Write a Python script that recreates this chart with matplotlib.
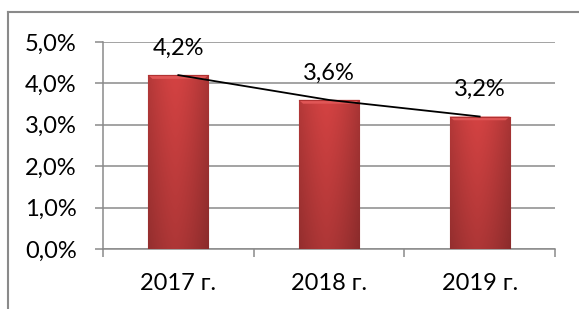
import numpy as np
import matplotlib
matplotlib.use("Agg")
import matplotlib.pyplot as plt
from matplotlib.lines import Line2D
from matplotlib.ticker import FuncFormatter

# data
years = ["2017 г.", "2018 г.", "2019 г."]
values = [4.2, 3.6, 3.2]
labels = ["4,2%", "3,6%", "3,2%"]
yticks = [0, 1, 2, 3, 4, 5]

plt.rcParams['font.family'] = ['Lato', 'DejaVu Sans']
FS = 17

W, H = 579, 309
fig = plt.figure(figsize=(W / 100, H / 100), dpi=100)
ax = fig.add_axes([103 / W, 1 - 249 / H, (555 - 103) / W, (249 - 42) / H])

x = np.arange(len(years))
bw = 0.4
bars = ax.bar(x, values, width=bw, color='#c23c3c', edgecolor='#9a2a2a',
              linewidth=0.8, zorder=3)

# shading on the bars (horizontal + vertical gradient, lighter top bevel)
for b in bars:
    x0, y0 = b.get_x(), b.get_y()
    w, h = b.get_width(), b.get_height()
    hh = np.linspace(0, 1, 60)
    hor = 1 - 0.25 * np.abs(hh - 0.45) ** 1.5 * 2
    vv = np.linspace(0, 1, 100)[:, None]
    shade = hor[None, :] * (0.82 + 0.18 * vv)
    base = np.array([0.83, 0.26, 0.26])
    img = shade[..., None] * base[None, None, :]
    img = np.clip(img, 0, 1)
    im = ax.imshow(img, extent=[x0, x0 + w, y0, y0 + h], origin='lower',
                   aspect='auto', zorder=3.5)
    im.set_clip_path(b)
    # top bevel
    bev = 0.09
    ax.fill([x0, x0 + w, x0 + w * 0.93, x0 + w * 0.07],
            [y0 + h, y0 + h, y0 + h - bev, y0 + h - bev],
            color='#e05656', zorder=3.7, lw=0)
    ax.plot([x0, x0 + w], [y0 + h, y0 + h], color='#b03232', lw=0.8, zorder=3.8)

# trend line through bar tops
ax.plot(x, values, color='black', lw=1.3, zorder=4)

for xi, v, lab in zip(x, values, labels):
    ax.text(xi, v + 0.65, lab, ha='center', va='center', fontsize=FS, zorder=5)

ax.set_xlim(-0.5, 2.5)
ax.set_ylim(0, 5)
ax.set_yticks(yticks)
ax.yaxis.set_major_formatter(FuncFormatter(lambda v, p: ("%.1f%%" % v).replace('.', ',')))
ax.set_xticks(x)
ax.set_xticklabels(years)
ax.set_xticks([-0.5, 0.5, 1.5, 2.5], minor=True)

ax.grid(axis='y', color='#8a8a8a', lw=1.1, zorder=0)
ax.set_axisbelow(True)
for s in ['top', 'right']:
    ax.spines[s].set_visible(False)
for s in ['left', 'bottom']:
    ax.spines[s].set_color('#8a8a8a')
    ax.spines[s].set_linewidth(1.1)

ax.tick_params(axis='y', length=6, color='#8a8a8a', width=1.1, labelsize=FS, pad=13)
ax.tick_params(axis='x', which='major', length=0, labelsize=FS, pad=17)
ax.tick_params(axis='x', which='minor', length=6, color='#8a8a8a', width=1.1)

# outer frame (cut at right and bottom)
fig.add_artist(Line2D([8 / W, 8 / W], [0, 1 - 12 / H], color='#8a8a8a', lw=1.5,
                      transform=fig.transFigure))
fig.add_artist(Line2D([8 / W, 1], [1 - 12 / H, 1 - 12 / H], color='#8a8a8a', lw=1.5,
                      transform=fig.transFigure))

fig.savefig("out.png", dpi=100)
